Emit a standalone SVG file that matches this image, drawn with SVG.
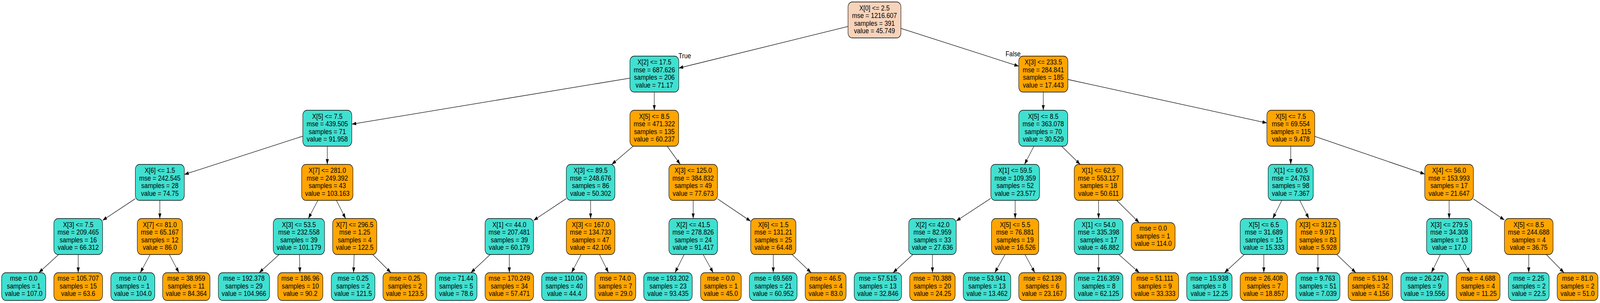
<svg xmlns="http://www.w3.org/2000/svg" width="4930" height="775" viewBox="0 0 4930 775" preserveAspectRatio="none">
<defs>
<style>
svg:root{width:100vw;height:100vh;display:block}
.t{font-family:"Liberation Sans",Arial,sans-serif;font-size:19.2px;text-anchor:middle;fill:#000}
.b{stroke:#000;stroke-width:1.3}
.tq{fill:#40e0d0}
.or{fill:#ffa500}
.rt{fill:#f6d3ba}
.e{fill:none;stroke:#000;stroke-width:1.3;marker-end:url(#ah)}
</style>
<marker id="ah" viewBox="0 0 14 10" refX="13.5" refY="5" markerWidth="14" markerHeight="10" markerUnits="userSpaceOnUse" orient="auto"><path d="M0,0.3 L13.5,5 L0,9.7 z" fill="#000"/></marker>
</defs>
<rect width="4930" height="775" fill="#fff"/>
<g id="edges">
<path class="e" d="M2613,67.64 L2091.5,174.13"/>
<path class="e" d="M2776,72.7 L3139,169.33"/>
<path class="e" d="M1941,199.84 L1084,317.62"/>
<path class="e" d="M2016,235.5 L2016,282"/>
<path class="e" d="M3214.6,235.5 L3214.6,282"/>
<path class="e" d="M3290.5,203.26 L3903.5,314.6"/>
<path class="e" d="M933,348.27 L568,446.23"/>
<path class="e" d="M1008.5,374 L1008.5,420.5"/>
<path class="e" d="M1950.84,374 L1884.96,420.5"/>
<path class="e" d="M2055.8,374 L2096.05,420.5"/>
<path class="e" d="M3185.77,374 L3156.73,420.5"/>
<path class="e" d="M3271.12,374 L3328.38,420.5"/>
<path class="e" d="M3977.1,374 L3977.1,420.5"/>
<path class="e" d="M4051,348.94 L4390,445.2"/>
<path class="e" d="M417,508.08 L316,563.7"/>
<path class="e" d="M492.5,512.5 L492.5,559"/>
<path class="e" d="M979.44,512.5 L950.06,559"/>
<path class="e" d="M1036.56,512.5 L1064.94,559"/>
<path class="e" d="M1745,507.86 L1644,563.7"/>
<path class="e" d="M1819.8,512.5 L1819.8,559"/>
<path class="e" d="M2135.85,512.5 L2135.85,559"/>
<path class="e" d="M2210.7,508.49 L2313,565.87"/>
<path class="e" d="M3053,507.27 L2946.4,565.21"/>
<path class="e" d="M3128,512.5 L3128,559"/>
<path class="e" d="M3385,512.5 L3385,559"/>
<path class="e" d="M3440.86,512.5 L3510.09,569.5"/>
<path class="e" d="M3949.49,512.5 L3921.66,559"/>
<path class="e" d="M4004.85,512.5 L4033,559"/>
<path class="e" d="M4465.15,512.5 L4465.15,559"/>
<path class="e" d="M4540,508.82 L4635.5,562.71"/>
<path class="e" d="M180.62,651 L119.59,697.5"/>
<path class="e" d="M241,651 L241,697.5"/>
<path class="e" d="M462.58,651 L432.34,697.5"/>
<path class="e" d="M521.79,651 L551.4,697.5"/>
<path class="e" d="M860.14,651 L798.62,697.5"/>
<path class="e" d="M922.58,651 L924.18,697.5"/>
<path class="e" d="M1091.2,651 L1089.39,697.5"/>
<path class="e" d="M1148.52,651 L1204.65,697.5"/>
<path class="e" d="M1510.38,651 L1450.82,697.5"/>
<path class="e" d="M1569.3,651 L1569.3,697.5"/>
<path class="e" d="M1790.58,651 L1761.05,697.5"/>
<path class="e" d="M1847.19,651 L1874.87,697.5"/>
<path class="e" d="M2107.96,651 L2079.77,697.5"/>
<path class="e" d="M2166.56,651 L2197.6,697.5"/>
<path class="e" d="M2382.6,651 L2382.6,697.5"/>
<path class="e" d="M2440.7,651 L2499.28,697.5"/>
<path class="e" d="M2812.75,651 L2751.65,697.5"/>
<path class="e" d="M2873.1,651 L2873.1,697.5"/>
<path class="e" d="M3096.68,651 L3065.22,697.5"/>
<path class="e" d="M3158.06,651 L3188.65,697.5"/>
<path class="e" d="M3385.1,651 L3385.1,697.5"/>
<path class="e" d="M3447.5,651 L3510.53,697.5"/>
<path class="e" d="M3833.88,651 L3772.96,697.5"/>
<path class="e" d="M3894.15,651 L3894.15,697.5"/>
<path class="e" d="M4060.85,651 L4060.85,697.5"/>
<path class="e" d="M4118.94,651 L4177.67,697.5"/>
<path class="e" d="M4437.99,651 L4410.38,697.5"/>
<path class="e" d="M4497.36,651 L4529.76,697.5"/>
<path class="e" d="M4710.45,651 L4710.45,697.5"/>
<path class="e" d="M4764.5,651 L4819.14,697.5"/>
<text class="t" x="2110" y="149.5" style="font-size:19px">True</text>
<text class="t" x="3121.6" y="144" style="font-size:19px">False</text>
</g>
<g id="n0"><rect class="b rt" x="2613" y="5" width="163" height="92" rx="13"/><text class="t" x="2694.5" y="26.75"><tspan x="2694.5">X[0] &lt;= 2.5</tspan><tspan x="2694.5" dy="19.5">mse = 1216.607</tspan><tspan x="2694.5" dy="19.5">samples = 391</tspan><tspan x="2694.5" dy="19.5">value = 45.749</tspan></text></g>
<g id="n1"><rect class="b tq" x="1941" y="143.5" width="150.5" height="92" rx="13"/><text class="t" x="2016.25" y="165.25"><tspan x="2016.25">X[2] &lt;= 17.5</tspan><tspan x="2016.25" dy="19.5">mse = 687.626</tspan><tspan x="2016.25" dy="19.5">samples = 206</tspan><tspan x="2016.25" dy="19.5">value = 71.17</tspan></text></g>
<g id="n2"><rect class="b or" x="3139" y="143.5" width="151.5" height="92" rx="13"/><text class="t" x="3214.75" y="165.25"><tspan x="3214.75">X[3] &lt;= 233.5</tspan><tspan x="3214.75" dy="19.5">mse = 284.841</tspan><tspan x="3214.75" dy="19.5">samples = 185</tspan><tspan x="3214.75" dy="19.5">value = 17.443</tspan></text></g>
<g id="n3"><rect class="b tq" x="933" y="282" width="151" height="92" rx="13"/><text class="t" x="1008.5" y="303.75"><tspan x="1008.5">X[5] &lt;= 7.5</tspan><tspan x="1008.5" dy="19.5">mse = 439.505</tspan><tspan x="1008.5" dy="19.5">samples = 71</tspan><tspan x="1008.5" dy="19.5">value = 91.958</tspan></text></g>
<g id="n4"><rect class="b or" x="1941" y="282" width="150" height="92" rx="13"/><text class="t" x="2016" y="303.75"><tspan x="2016">X[5] &lt;= 8.5</tspan><tspan x="2016" dy="19.5">mse = 471.322</tspan><tspan x="2016" dy="19.5">samples = 135</tspan><tspan x="2016" dy="19.5">value = 60.237</tspan></text></g>
<g id="n5"><rect class="b tq" x="3139" y="282" width="151" height="92" rx="13"/><text class="t" x="3214.5" y="303.75"><tspan x="3214.5">X[5] &lt;= 8.5</tspan><tspan x="3214.5" dy="19.5">mse = 363.078</tspan><tspan x="3214.5" dy="19.5">samples = 70</tspan><tspan x="3214.5" dy="19.5">value = 30.529</tspan></text></g>
<g id="n6"><rect class="b or" x="3903.5" y="282" width="147.5" height="92" rx="13"/><text class="t" x="3977.25" y="303.75"><tspan x="3977.25">X[5] &lt;= 7.5</tspan><tspan x="3977.25" dy="19.5">mse = 69.554</tspan><tspan x="3977.25" dy="19.5">samples = 115</tspan><tspan x="3977.25" dy="19.5">value = 9.478</tspan></text></g>
<g id="n7"><rect class="b tq" x="417" y="420.5" width="151" height="92" rx="13"/><text class="t" x="492.5" y="442.25"><tspan x="492.5">X[6] &lt;= 1.5</tspan><tspan x="492.5" dy="19.5">mse = 242.545</tspan><tspan x="492.5" dy="19.5">samples = 28</tspan><tspan x="492.5" dy="19.5">value = 74.75</tspan></text></g>
<g id="n8"><rect class="b or" x="929.5" y="420.5" width="158" height="92" rx="13"/><text class="t" x="1008.5" y="442.25"><tspan x="1008.5">X[7] &lt;= 281.0</tspan><tspan x="1008.5" dy="19.5">mse = 249.392</tspan><tspan x="1008.5" dy="19.5">samples = 43</tspan><tspan x="1008.5" dy="19.5">value = 103.163</tspan></text></g>
<g id="n9"><rect class="b tq" x="1745" y="420.5" width="149.6" height="92" rx="13"/><text class="t" x="1819.8" y="442.25"><tspan x="1819.8">X[3] &lt;= 89.5</tspan><tspan x="1819.8" dy="19.5">mse = 248.676</tspan><tspan x="1819.8" dy="19.5">samples = 86</tspan><tspan x="1819.8" dy="19.5">value = 50.302</tspan></text></g>
<g id="n10"><rect class="b or" x="2061" y="420.5" width="149.7" height="92" rx="13"/><text class="t" x="2135.85" y="442.25"><tspan x="2135.85">X[3] &lt;= 125.0</tspan><tspan x="2135.85" dy="19.5">mse = 384.832</tspan><tspan x="2135.85" dy="19.5">samples = 49</tspan><tspan x="2135.85" dy="19.5">value = 77.673</tspan></text></g>
<g id="n11"><rect class="b tq" x="3053" y="420.5" width="150" height="92" rx="13"/><text class="t" x="3128" y="442.25"><tspan x="3128">X[1] &lt;= 59.5</tspan><tspan x="3128" dy="19.5">mse = 109.359</tspan><tspan x="3128" dy="19.5">samples = 52</tspan><tspan x="3128" dy="19.5">value = 23.577</tspan></text></g>
<g id="n12"><rect class="b or" x="3310" y="420.5" width="150" height="92" rx="13"/><text class="t" x="3385" y="442.25"><tspan x="3385">X[1] &lt;= 62.5</tspan><tspan x="3385" dy="19.5">mse = 553.127</tspan><tspan x="3385" dy="19.5">samples = 18</tspan><tspan x="3385" dy="19.5">value = 50.611</tspan></text></g>
<g id="n13"><rect class="b tq" x="3907.5" y="420.5" width="139" height="92" rx="13"/><text class="t" x="3977" y="442.25"><tspan x="3977">X[1] &lt;= 60.5</tspan><tspan x="3977" dy="19.5">mse = 24.763</tspan><tspan x="3977" dy="19.5">samples = 98</tspan><tspan x="3977" dy="19.5">value = 7.367</tspan></text></g>
<g id="n14"><rect class="b or" x="4390" y="420.5" width="150" height="92" rx="13"/><text class="t" x="4465" y="442.25"><tspan x="4465">X[4] &lt;= 56.0</tspan><tspan x="4465" dy="19.5">mse = 153.993</tspan><tspan x="4465" dy="19.5">samples = 17</tspan><tspan x="4465" dy="19.5">value = 21.647</tspan></text></g>
<g id="n15"><rect class="b tq" x="166" y="559" width="150" height="92" rx="13"/><text class="t" x="241" y="580.75"><tspan x="241">X[3] &lt;= 7.5</tspan><tspan x="241" dy="19.5">mse = 209.465</tspan><tspan x="241" dy="19.5">samples = 16</tspan><tspan x="241" dy="19.5">value = 66.312</tspan></text></g>
<g id="n16"><rect class="b or" x="423" y="559" width="139" height="92" rx="13"/><text class="t" x="492.5" y="580.75"><tspan x="492.5">X[7] &lt;= 81.0</tspan><tspan x="492.5" dy="19.5">mse = 65.167</tspan><tspan x="492.5" dy="19.5">samples = 12</tspan><tspan x="492.5" dy="19.5">value = 86.0</tspan></text></g>
<g id="n17"><rect class="b tq" x="842" y="559" width="158" height="92" rx="13"/><text class="t" x="921" y="580.75"><tspan x="921">X[3] &lt;= 53.5</tspan><tspan x="921" dy="19.5">mse = 232.558</tspan><tspan x="921" dy="19.5">samples = 39</tspan><tspan x="921" dy="19.5">value = 101.179</tspan></text></g>
<g id="n18"><rect class="b or" x="1025" y="559" width="136" height="92" rx="13"/><text class="t" x="1093" y="580.75"><tspan x="1093">X[7] &lt;= 296.5</tspan><tspan x="1093" dy="19.5">mse = 1.25</tspan><tspan x="1093" dy="19.5">samples = 4</tspan><tspan x="1093" dy="19.5">value = 122.5</tspan></text></g>
<g id="n19"><rect class="b tq" x="1494.6" y="559" width="149.4" height="92" rx="13"/><text class="t" x="1569.3" y="580.75"><tspan x="1569.3">X[1] &lt;= 44.0</tspan><tspan x="1569.3" dy="19.5">mse = 207.481</tspan><tspan x="1569.3" dy="19.5">samples = 39</tspan><tspan x="1569.3" dy="19.5">value = 60.179</tspan></text></g>
<g id="n20"><rect class="b or" x="1745" y="559" width="149.6" height="92" rx="13"/><text class="t" x="1819.8" y="580.75"><tspan x="1819.8">X[3] &lt;= 167.0</tspan><tspan x="1819.8" dy="19.5">mse = 134.733</tspan><tspan x="1819.8" dy="19.5">samples = 47</tspan><tspan x="1819.8" dy="19.5">value = 42.106</tspan></text></g>
<g id="n21"><rect class="b tq" x="2061" y="559" width="149.7" height="92" rx="13"/><text class="t" x="2135.85" y="580.75"><tspan x="2135.85">X[2] &lt;= 41.5</tspan><tspan x="2135.85" dy="19.5">mse = 278.826</tspan><tspan x="2135.85" dy="19.5">samples = 24</tspan><tspan x="2135.85" dy="19.5">value = 91.417</tspan></text></g>
<g id="n22"><rect class="b or" x="2313" y="559" width="139.5" height="92" rx="13"/><text class="t" x="2382.75" y="580.75"><tspan x="2382.75">X[6] &lt;= 1.5</tspan><tspan x="2382.75" dy="19.5">mse = 131.21</tspan><tspan x="2382.75" dy="19.5">samples = 25</tspan><tspan x="2382.75" dy="19.5">value = 64.48</tspan></text></g>
<g id="n23"><rect class="b tq" x="2800" y="559" width="146.4" height="92" rx="13"/><text class="t" x="2873.2" y="580.75"><tspan x="2873.2">X[2] &lt;= 42.0</tspan><tspan x="2873.2" dy="19.5">mse = 82.959</tspan><tspan x="2873.2" dy="19.5">samples = 33</tspan><tspan x="2873.2" dy="19.5">value = 27.636</tspan></text></g>
<g id="n24"><rect class="b or" x="3055" y="559" width="145.6" height="92" rx="13"/><text class="t" x="3127.8" y="580.75"><tspan x="3127.8">X[5] &lt;= 5.5</tspan><tspan x="3127.8" dy="19.5">mse = 76.881</tspan><tspan x="3127.8" dy="19.5">samples = 19</tspan><tspan x="3127.8" dy="19.5">value = 16.526</tspan></text></g>
<g id="n25"><rect class="b tq" x="3310" y="559" width="150.3" height="92" rx="13"/><text class="t" x="3385.15" y="580.75"><tspan x="3385.15">X[1] &lt;= 54.0</tspan><tspan x="3385.15" dy="19.5">mse = 335.398</tspan><tspan x="3385.15" dy="19.5">samples = 17</tspan><tspan x="3385.15" dy="19.5">value = 46.882</tspan></text></g>
<g id="n26"><rect class="b or" x="3485.7" y="569.5" width="135" height="71" rx="13"/><text class="t" x="3553.2" y="590.5"><tspan x="3553.2">mse = 0.0</tspan><tspan x="3553.2" dy="19.5">samples = 1</tspan><tspan x="3553.2" dy="19.5">value = 114.0</tspan></text></g>
<g id="n27"><rect class="b tq" x="3821.3" y="559" width="145.7" height="92" rx="13"/><text class="t" x="3894.15" y="580.75"><tspan x="3894.15">X[5] &lt;= 6.5</tspan><tspan x="3894.15" dy="19.5">mse = 31.689</tspan><tspan x="3894.15" dy="19.5">samples = 15</tspan><tspan x="3894.15" dy="19.5">value = 15.333</tspan></text></g>
<g id="n28"><rect class="b or" x="3993" y="559" width="135.7" height="92" rx="13"/><text class="t" x="4060.85" y="580.75"><tspan x="4060.85">X[3] &lt;= 312.5</tspan><tspan x="4060.85" dy="19.5">mse = 9.971</tspan><tspan x="4060.85" dy="19.5">samples = 83</tspan><tspan x="4060.85" dy="19.5">value = 5.928</tspan></text></g>
<g id="n29"><rect class="b tq" x="4395.6" y="559" width="139.4" height="92" rx="13"/><text class="t" x="4465.3" y="580.75"><tspan x="4465.3">X[3] &lt;= 279.5</tspan><tspan x="4465.3" dy="19.5">mse = 34.308</tspan><tspan x="4465.3" dy="19.5">samples = 13</tspan><tspan x="4465.3" dy="19.5">value = 17.0</tspan></text></g>
<g id="n30"><rect class="b or" x="4635.5" y="559" width="149.9" height="92" rx="13"/><text class="t" x="4710.45" y="580.75"><tspan x="4710.45">X[5] &lt;= 8.5</tspan><tspan x="4710.45" dy="19.5">mse = 244.688</tspan><tspan x="4710.45" dy="19.5">samples = 4</tspan><tspan x="4710.45" dy="19.5">value = 36.75</tspan></text></g>
<g id="a1"><rect class="b tq" x="5" y="697.5" width="136" height="71" rx="13"/><text class="t" x="73" y="718.5"><tspan x="73">mse = 0.0</tspan><tspan x="73" dy="19.5">samples = 1</tspan><tspan x="73" dy="19.5">value = 107.0</tspan></text></g>
<g id="a2"><rect class="b or" x="166" y="697.5" width="150" height="71" rx="13"/><text class="t" x="241" y="718.5"><tspan x="241">mse = 105.707</tspan><tspan x="241" dy="19.5">samples = 15</tspan><tspan x="241" dy="19.5">value = 63.6</tspan></text></g>
<g id="a3"><rect class="b tq" x="341.5" y="697.5" width="135.5" height="71" rx="13"/><text class="t" x="409.25" y="718.5"><tspan x="409.25">mse = 0.0</tspan><tspan x="409.25" dy="19.5">samples = 1</tspan><tspan x="409.25" dy="19.5">value = 104.0</tspan></text></g>
<g id="a4"><rect class="b or" x="501" y="697.5" width="146" height="71" rx="13"/><text class="t" x="574" y="718.5"><tspan x="574">mse = 38.959</tspan><tspan x="574" dy="19.5">samples = 11</tspan><tspan x="574" dy="19.5">value = 84.364</tspan></text></g>
<g id="a5"><rect class="b tq" x="672.8" y="697.5" width="157.7" height="71" rx="13"/><text class="t" x="751.65" y="718.5"><tspan x="751.65">mse = 192.378</tspan><tspan x="751.65" dy="19.5">samples = 29</tspan><tspan x="751.65" dy="19.5">value = 104.966</tspan></text></g>
<g id="a6"><rect class="b or" x="856" y="697.5" width="138.8" height="71" rx="13"/><text class="t" x="925.4" y="718.5"><tspan x="925.4">mse = 186.96</tspan><tspan x="925.4" dy="19.5">samples = 10</tspan><tspan x="925.4" dy="19.5">value = 90.2</tspan></text></g>
<g id="a7"><rect class="b tq" x="1020.8" y="697.5" width="134.4" height="71" rx="13"/><text class="t" x="1088" y="718.5"><tspan x="1088">mse = 0.25</tspan><tspan x="1088" dy="19.5">samples = 2</tspan><tspan x="1088" dy="19.5">value = 121.5</tspan></text></g>
<g id="a8"><rect class="b or" x="1180" y="697.5" width="135" height="71" rx="13"/><text class="t" x="1247.5" y="718.5"><tspan x="1247.5">mse = 0.25</tspan><tspan x="1247.5" dy="19.5">samples = 2</tspan><tspan x="1247.5" dy="19.5">value = 123.5</tspan></text></g>
<g id="a9"><rect class="b tq" x="1341" y="697.5" width="128.7" height="71" rx="13"/><text class="t" x="1405.35" y="718.5"><tspan x="1405.35">mse = 71.44</tspan><tspan x="1405.35" dy="19.5">samples = 5</tspan><tspan x="1405.35" dy="19.5">value = 78.6</tspan></text></g>
<g id="a10"><rect class="b or" x="1494.6" y="697.5" width="149.4" height="71" rx="13"/><text class="t" x="1569.3" y="718.5"><tspan x="1569.3">mse = 170.249</tspan><tspan x="1569.3" dy="19.5">samples = 34</tspan><tspan x="1569.3" dy="19.5">value = 57.471</tspan></text></g>
<g id="a11"><rect class="b tq" x="1669" y="697.5" width="139" height="71" rx="13"/><text class="t" x="1738.5" y="718.5"><tspan x="1738.5">mse = 110.04</tspan><tspan x="1738.5" dy="19.5">samples = 40</tspan><tspan x="1738.5" dy="19.5">value = 44.4</tspan></text></g>
<g id="a12"><rect class="b or" x="1833" y="697.5" width="126" height="71" rx="13"/><text class="t" x="1896" y="718.5"><tspan x="1896">mse = 74.0</tspan><tspan x="1896" dy="19.5">samples = 7</tspan><tspan x="1896" dy="19.5">value = 29.0</tspan></text></g>
<g id="a13"><rect class="b tq" x="1983.5" y="697.5" width="149.5" height="71" rx="13"/><text class="t" x="2058.25" y="718.5"><tspan x="2058.25">mse = 193.202</tspan><tspan x="2058.25" dy="19.5">samples = 23</tspan><tspan x="2058.25" dy="19.5">value = 93.435</tspan></text></g>
<g id="a14"><rect class="b or" x="2158.6" y="697.5" width="125.4" height="71" rx="13"/><text class="t" x="2221.3" y="718.5"><tspan x="2221.3">mse = 0.0</tspan><tspan x="2221.3" dy="19.5">samples = 1</tspan><tspan x="2221.3" dy="19.5">value = 45.0</tspan></text></g>
<g id="a15"><rect class="b tq" x="2309" y="697.5" width="147" height="71" rx="13"/><text class="t" x="2382.5" y="718.5"><tspan x="2382.5">mse = 69.569</tspan><tspan x="2382.5" dy="19.5">samples = 21</tspan><tspan x="2382.5" dy="19.5">value = 60.952</tspan></text></g>
<g id="a16"><rect class="b or" x="2481" y="697.5" width="126" height="71" rx="13"/><text class="t" x="2544" y="718.5"><tspan x="2544">mse = 46.5</tspan><tspan x="2544" dy="19.5">samples = 4</tspan><tspan x="2544" dy="19.5">value = 83.0</tspan></text></g>
<g id="a17"><rect class="b tq" x="2632" y="697.5" width="146" height="71" rx="13"/><text class="t" x="2705" y="718.5"><tspan x="2705">mse = 57.515</tspan><tspan x="2705" dy="19.5">samples = 13</tspan><tspan x="2705" dy="19.5">value = 32.846</tspan></text></g>
<g id="a18"><rect class="b or" x="2803" y="697.5" width="140" height="71" rx="13"/><text class="t" x="2873" y="718.5"><tspan x="2873">mse = 70.388</tspan><tspan x="2873" dy="19.5">samples = 20</tspan><tspan x="2873" dy="19.5">value = 24.25</tspan></text></g>
<g id="a19"><rect class="b tq" x="2968" y="697.5" width="146.4" height="71" rx="13"/><text class="t" x="3041.2" y="718.5"><tspan x="3041.2">mse = 53.941</tspan><tspan x="3041.2" dy="19.5">samples = 13</tspan><tspan x="3041.2" dy="19.5">value = 13.462</tspan></text></g>
<g id="a20"><rect class="b or" x="3139" y="697.5" width="146" height="71" rx="13"/><text class="t" x="3212" y="718.5"><tspan x="3212">mse = 62.139</tspan><tspan x="3212" dy="19.5">samples = 6</tspan><tspan x="3212" dy="19.5">value = 23.167</tspan></text></g>
<g id="a21"><rect class="b tq" x="3310" y="697.5" width="150" height="71" rx="13"/><text class="t" x="3385" y="718.5"><tspan x="3385">mse = 216.359</tspan><tspan x="3385" dy="19.5">samples = 8</tspan><tspan x="3385" dy="19.5">value = 62.125</tspan></text></g>
<g id="a22"><rect class="b or" x="3485.7" y="697.5" width="145.9" height="71" rx="13"/><text class="t" x="3558.65" y="718.5"><tspan x="3558.65">mse = 51.111</tspan><tspan x="3558.65" dy="19.5">samples = 9</tspan><tspan x="3558.65" dy="19.5">value = 33.333</tspan></text></g>
<g id="a23"><rect class="b tq" x="3656.5" y="697.5" width="139.9" height="71" rx="13"/><text class="t" x="3726.45" y="718.5"><tspan x="3726.45">mse = 15.938</tspan><tspan x="3726.45" dy="19.5">samples = 8</tspan><tspan x="3726.45" dy="19.5">value = 12.25</tspan></text></g>
<g id="a24"><rect class="b or" x="3821.3" y="697.5" width="145.7" height="71" rx="13"/><text class="t" x="3894.15" y="718.5"><tspan x="3894.15">mse = 26.408</tspan><tspan x="3894.15" dy="19.5">samples = 7</tspan><tspan x="3894.15" dy="19.5">value = 18.857</tspan></text></g>
<g id="a25"><rect class="b tq" x="3993" y="697.5" width="135.7" height="71" rx="13"/><text class="t" x="4060.85" y="718.5"><tspan x="4060.85">mse = 9.763</tspan><tspan x="4060.85" dy="19.5">samples = 51</tspan><tspan x="4060.85" dy="19.5">value = 7.039</tspan></text></g>
<g id="a26"><rect class="b or" x="4154" y="697.5" width="137" height="71" rx="13"/><text class="t" x="4222.5" y="718.5"><tspan x="4222.5">mse = 5.194</tspan><tspan x="4222.5" dy="19.5">samples = 32</tspan><tspan x="4222.5" dy="19.5">value = 4.156</tspan></text></g>
<g id="a27"><rect class="b tq" x="4316.4" y="697.5" width="145.8" height="71" rx="13"/><text class="t" x="4389.3" y="718.5"><tspan x="4389.3">mse = 26.247</tspan><tspan x="4389.3" dy="19.5">samples = 9</tspan><tspan x="4389.3" dy="19.5">value = 19.556</tspan></text></g>
<g id="a28"><rect class="b or" x="4487" y="697.5" width="135" height="71" rx="13"/><text class="t" x="4554.5" y="718.5"><tspan x="4554.5">mse = 4.688</tspan><tspan x="4554.5" dy="19.5">samples = 4</tspan><tspan x="4554.5" dy="19.5">value = 11.25</tspan></text></g>
<g id="a29"><rect class="b tq" x="4647.6" y="697.5" width="125.7" height="71" rx="13"/><text class="t" x="4710.45" y="718.5"><tspan x="4710.45">mse = 2.25</tspan><tspan x="4710.45" dy="19.5">samples = 2</tspan><tspan x="4710.45" dy="19.5">value = 22.5</tspan></text></g>
<g id="a30"><rect class="b or" x="4798" y="697.5" width="125.7" height="71" rx="13"/><text class="t" x="4860.85" y="718.5"><tspan x="4860.85">mse = 81.0</tspan><tspan x="4860.85" dy="19.5">samples = 2</tspan><tspan x="4860.85" dy="19.5">value = 51.0</tspan></text></g>
</svg>
